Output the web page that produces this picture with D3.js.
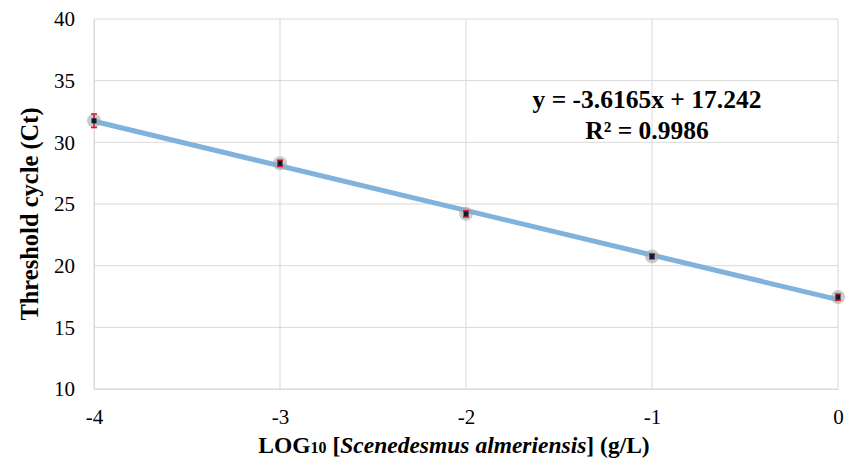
<!DOCTYPE html>
<html>
<head>
<meta charset="utf-8">
<script src="https://cdn.jsdelivr.net/npm/d3@7"></script>
<style>
  body { margin: 0; background: #fff; }
  text { font-family: "Liberation Serif", "Times New Roman", serif; }
</style>
</head>
<body>
<div id="chart"></div>
<script>
// Sample data
const logConc = [-4, -3, -2, -1, 0];
const ctMean = [31.75, 28.3, 24.2, 20.75, 17.45];
const ctErr = [0.55, 0.25, 0.25, 0.2, 0.25];
const slope = -3.6165, intercept = 17.242;
const xTicks = [-4, -3, -2, -1, 0];
const yTicks = [10, 15, 20, 25, 30, 35, 40];

const serif = "'Liberation Serif', 'Times New Roman', serif";

const W = 846, H = 458;
var margin = {top: 19, right: 8, bottom: 69, left: 94},
    width = W - margin.left - margin.right,
    height = H - margin.top - margin.bottom;

const svg = d3.select("#chart").append("svg")
    .attr("width", W)
    .attr("height", H)
  .append("g")
    .attr("transform", `translate(${margin.left}, ${margin.top})`);

const x = d3.scaleLinear().domain([-4, 0]).range([0, width]);
const y = d3.scaleLinear().domain([10, 40]).range([height, 0]);

// grid
svg.selectAll(".hgrid").data(yTicks).enter().append("line")
    .attr("x1", 0).attr("x2", width)
    .attr("y1", d => y(d)).attr("y2", d => y(d))
    .attr("stroke", "#d9d9d9").attr("stroke-width", 1);
svg.selectAll(".vgrid").data(xTicks).enter().append("line")
    .attr("x1", d => x(d)).attr("x2", d => x(d))
    .attr("y1", 0).attr("y2", height)
    .attr("stroke", "#d9d9d9").attr("stroke-width", 1);

// axes
svg.append("g")
    .attr("transform", "translate(0," + height + ")")
    .attr("font-family", serif)
    .call(d3.axisBottom(x).tickValues(xTicks).tickSize(0).tickPadding(20).tickFormat(d => String(d)))
    .call(g => g.attr("font-family", serif).attr("font-size", 21))
    .call(g => g.select(".domain").attr("stroke", "#d9d9d9"))
    .selectAll("text")
    .attr("fill", "#000");

svg.append("g")
    .call(d3.axisLeft(y).tickValues(yTicks).tickSize(0).tickPadding(19).tickFormat(d => String(d)))
    .call(g => g.attr("font-family", serif).attr("font-size", 21))
    .call(g => g.select(".domain").attr("stroke", "#d9d9d9"))
    .selectAll("text")
    .attr("fill", "#000");

// trendline
svg.append("line")
    .attr("x1", x(-4)).attr("y1", y(slope * -4 + intercept))
    .attr("x2", x(0)).attr("y2", y(intercept))
    .attr("stroke", "#7fb2dc").attr("stroke-width", 5)
    .attr("stroke-linecap", "butt");

const pts = logConc.map((d, i) => ({x: d, y: ctMean[i], e: ctErr[i]}));

// markers
svg.selectAll(".halo").data(pts).enter().append("circle")
    .attr("cx", d => x(d.x)).attr("cy", d => y(d.y)).attr("r", 7)
    .attr("fill", "#a6a6a6").attr("opacity", 0.6);

const err = svg.selectAll(".err").data(pts).enter().append("g").attr("stroke", "#e0141e").attr("stroke-width", 1.5);
err.append("line")
    .attr("x1", d => x(d.x)).attr("x2", d => x(d.x))
    .attr("y1", d => y(d.y - d.e)).attr("y2", d => y(d.y + d.e));
err.append("line")
    .attr("x1", d => x(d.x) - 3).attr("x2", d => x(d.x) + 3)
    .attr("y1", d => y(d.y - d.e)).attr("y2", d => y(d.y - d.e));
err.append("line")
    .attr("x1", d => x(d.x) - 3).attr("x2", d => x(d.x) + 3)
    .attr("y1", d => y(d.y + d.e)).attr("y2", d => y(d.y + d.e));

svg.selectAll(".dot").data(pts).enter().append("rect")
    .attr("x", d => x(d.x) - 2.5).attr("y", d => y(d.y) - 2.5)
    .attr("width", 5).attr("height", 5)
    .attr("fill", "#0d1b3e");

// equation
const eq = svg.append("text")
    .attr("x", 553).attr("y", 89)
    .attr("text-anchor", "middle")
    .style("font-size", "25.5px").style("font-weight", "bold");
eq.append("tspan").attr("x", 553).text("y = -3.6165x + 17.242");
eq.append("tspan").attr("x", 553).attr("dy", 31).text("R² = 0.9986");

// axis titles
svg.append("text")
    .attr("transform", `translate(${-56}, ${height / 2 + 10}) rotate(-90)`)
    .attr("text-anchor", "middle")
    .style("font-size", "24.5px").style("font-weight", "bold")
    .text("Threshold cycle (Ct)");

const xt = svg.append("text")
    .attr("x", width / 2 - 12).attr("y", height + 64)
    .attr("text-anchor", "middle")
    .style("font-size", "23.5px").style("font-weight", "bold");
xt.append("tspan").text("LOG");
xt.append("tspan").style("font-size", "16px").text("10");
xt.append("tspan").text(" [");
xt.append("tspan").style("font-style", "italic").text("Scenedesmus almeriensis");
xt.append("tspan").text("] (g/L)");
</script>
</body>
</html>
